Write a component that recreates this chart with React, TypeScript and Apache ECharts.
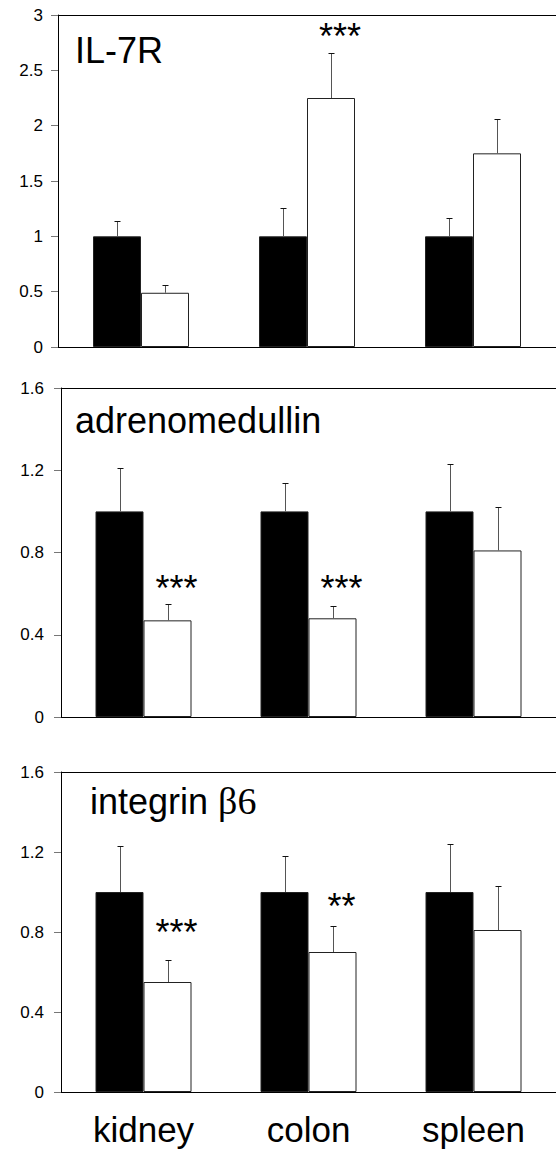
import React, { useEffect, useRef } from "react";
import * as echarts from "echarts";

const categories = ["kidney", "colon", "spleen"];

const il7rCtrl = [1, 1, 1];
const il7rCtrlErr = [1.14, 1.26, 1.17];
const il7rKO = [0.49, 2.25, 1.75];
const il7rKOErr = [0.56, 2.66, 2.06];
const il7rSig = ["", "***", ""];
const il7rSigLevel = [0, 2.88, 0];

const admCtrl = [1, 1, 1];
const admCtrlErr = [1.21, 1.14, 1.23];
const admKO = [0.47, 0.48, 0.81];
const admKOErr = [0.55, 0.54, 1.02];
const admSig = ["***", "***", ""];
const admSigLevel = [0.666, 0.666, 0];

const itgCtrl = [1, 1, 1];
const itgCtrlErr = [1.23, 1.18, 1.24];
const itgKO = [0.55, 0.7, 0.81];
const itgKOErr = [0.66, 0.83, 1.03];
const itgSig = ["***", "**", ""];
const itgSigLevel = [0.84, 0.97, 0];

const yMax = [3, 1.6, 1.6];
const yInterval = [0.5, 0.4, 0.4];

const FONT = "'Liberation Sans', Arial, Helvetica, sans-serif";
const BAR_W = 48;

const panels = [
  { ctrl: il7rCtrl, ctrlErr: il7rCtrlErr, ko: il7rKO, koErr: il7rKOErr, sig: il7rSig, sigLevel: il7rSigLevel },
  { ctrl: admCtrl, ctrlErr: admCtrlErr, ko: admKO, koErr: admKOErr, sig: admSig, sigLevel: admSigLevel },
  { ctrl: itgCtrl, ctrlErr: itgCtrlErr, ko: itgKO, koErr: itgKOErr, sig: itgSig, sigLevel: itgSigLevel },
];

const grids = [
  { left: 58, top: 15, width: 504, height: 332 },
  { left: 61, top: 388, width: 507, height: 329 },
  { left: 61, top: 772, width: 504, height: 320 },
];

function errSeries(g: number, means: number[], errs: number[], offset: number) {
  return {
    type: "custom",
    xAxisIndex: g,
    yAxisIndex: g,
    z: 5,
    data: means.map((m, i) => [i, m, errs[i]]),
    encode: { x: 0, y: [1, 2] },
    renderItem: (params: any, api: any) => {
      const idx = api.value(0);
      const p = api.coord([idx, api.value(1)]);
      const t = api.coord([idx, api.value(2)]);
      const x = Math.round(p[0] + offset) + 0.5;
      const yt = Math.round(t[1]) + 0.5;
      return {
        type: "group",
        children: [
          { type: "line", shape: { x1: x, y1: p[1], x2: x, y2: yt }, style: { stroke: "#555", lineWidth: 1 } },
          { type: "line", shape: { x1: x - 3, y1: yt, x2: x + 3, y2: yt }, style: { stroke: "#111", lineWidth: 1 } },
        ],
      };
    },
  };
}

function sigSeries(g: number, sig: string[], levels: number[]) {
  const entries = sig.map((s, i) => ({ s, i, level: levels[i] })).filter((e) => e.s);
  return {
    type: "custom",
    xAxisIndex: g,
    yAxisIndex: g,
    z: 6,
    data: entries.map((e) => [e.i, e.level]),
    encode: { x: 0, y: 1 },
    renderItem: (params: any, api: any) => {
      const p = api.coord([api.value(0), api.value(1)]);
      return {
        type: "text",
        x: p[0] + 33,
        y: p[1] + 8,
        style: {
          text: entries[params.dataIndex].s,
          fontSize: 36,
          fontFamily: FONT,
          fill: "#000",
          textAlign: "center",
          textVerticalAlign: "middle",
        },
      };
    },
  };
}

export default function App() {
  const ref = useRef<HTMLDivElement>(null);
  useEffect(() => {
    if (!ref.current) return;
    const chart = echarts.init(ref.current, null, { renderer: "svg" });
    const xAxes: any[] = [];
    grids.forEach((_, g) => {
      xAxes.push({
        type: "category",
        gridIndex: g,
        data: categories,
        position: "bottom",
        axisLine: { show: true, lineStyle: { color: "#000", width: 1 } },
        axisTick: { show: false },
        axisLabel: {
          show: g === 2,
          fontSize: 35,
          fontFamily: FONT,
          color: "#000",
          margin: 20,
        },
      });
    });
    grids.forEach((_, g) => {
      xAxes.push({
        type: "category",
        gridIndex: g,
        data: categories,
        position: "top",
        axisLine: { show: true, lineStyle: { color: "#000", width: 1 } },
        axisTick: { show: false },
        axisLabel: { show: false },
      });
    });
    const yAxes = grids.map((_, g) => ({
      type: "value",
      gridIndex: g,
      min: 0,
      max: yMax[g],
      interval: yInterval[g],
      axisLine: { show: true, lineStyle: { color: "#000", width: 1 } },
      axisTick: { show: true, length: 7, lineStyle: { color: "#777" } },
      splitLine: { show: false },
      axisLabel: { fontSize: 17, fontFamily: FONT, color: "#000", margin: g === 0 ? 15 : 17 },
    }));
    const series: any[] = [];
    panels.forEach((p, g) => {
      series.push({
        type: "bar",
        xAxisIndex: g,
        yAxisIndex: g,
        data: p.ctrl,
        barWidth: BAR_W,
        barGap: "0%",
        itemStyle: { color: "#000", borderColor: "#222", borderWidth: 1 },
      });
      series.push({
        type: "bar",
        xAxisIndex: g,
        yAxisIndex: g,
        data: p.ko,
        barWidth: BAR_W,
        barGap: "0%",
        itemStyle: { color: "#fff", borderColor: "#222", borderWidth: 1 },
      });
      series.push(errSeries(g, p.ctrl, p.ctrlErr, -BAR_W / 2));
      series.push(errSeries(g, p.ko, p.koErr, BAR_W / 2));
      series.push(sigSeries(g, p.sig, p.sigLevel));
    });
    const titleStyle = { fontSize: 36, fontWeight: "normal", fontFamily: FONT, color: "#000" };
    chart.setOption({
      animation: false,
      backgroundColor: "#fff",
      title: [
        { text: "IL-7R", left: 75, top: 32, padding: 0, textStyle: titleStyle },
        { text: "adrenomedullin", left: 75, top: 402, padding: 0, textStyle: titleStyle },
        {
          text: "{a|integrin }{b|β6}",
          left: 90,
          top: 782,
          padding: 0,
          textStyle: {
            ...titleStyle,
            rich: {
              a: { fontSize: 36, fontFamily: FONT, color: "#000" },
              b: { fontSize: 38, fontFamily: "'Liberation Serif', 'Times New Roman', serif", color: "#000" },
            },
          },
        },
      ],
      grid: grids,
      xAxis: xAxes,
      yAxis: yAxes,
      series,
    });
    return () => chart.dispose();
  }, []);
  return (
    <div
      ref={ref}
      style={{ position: "absolute", left: 0, top: 0, width: 556, height: 1156 }}
    />
  );
}
